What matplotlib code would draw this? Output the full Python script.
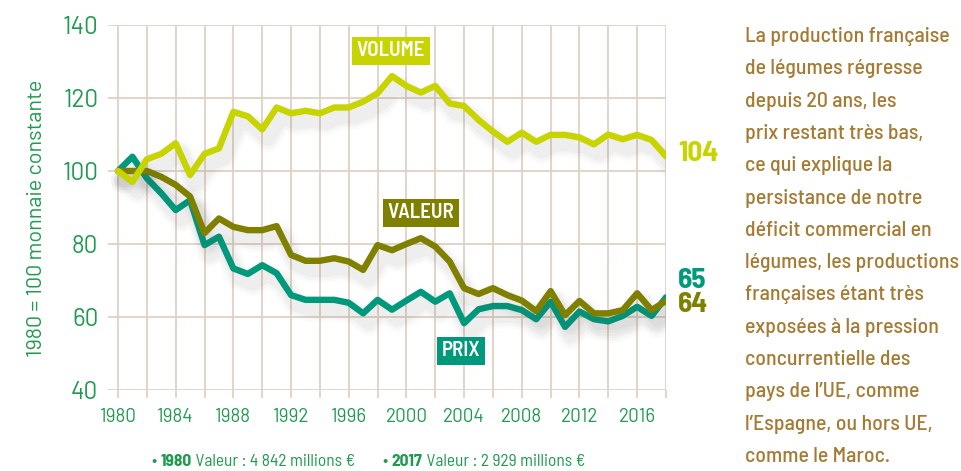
"""
plot.py - French vegetable production indices 1980-2018 (volume, valeur, prix).
"""

import matplotlib
matplotlib.use('Agg')
import matplotlib.pyplot as plt
import matplotlib.patheffects as pe
from matplotlib import font_manager


years = list(range(1980, 2019))

volume = [100, 97, 103.2, 104.7, 107.6, 98.9, 104.7, 106.2, 116.2, 115, 111.4, 117.4, 115.8,
          116.5, 115.8, 117.4, 117.4, 119, 121.3, 126, 123.3, 121.5, 123.3, 118.5, 117.8,
          114, 110.8, 108, 110.5, 108, 109.9, 109.9, 109.2, 107.3, 110, 108.7, 109.9, 108.5, 104]
valeur = [100, 100, 100, 98.4, 96.2, 93, 83, 87, 84.7, 83.8, 83.8, 84.9, 77, 75.4, 75.4,
          76.1, 75.2, 72.9, 79.7, 78.3, 80, 81.6, 79.3, 75.2, 67.9, 66.3, 67.9, 66, 64.5,
          61.6, 67.1, 60.5, 64.4, 61, 61, 61.9, 66.5, 61.9, 64.4]
prix = [100, 103.9, 98, 93.9, 89.3, 92, 79.7, 82, 73.3, 71.8, 74.2, 72, 66, 64.7, 64.7,
        64.7, 63.9, 61, 64.7, 62, 64.5, 66.9, 64.2, 66.5, 58.3, 62.1, 63, 63, 61.9, 59.4,
        64.2, 57.3, 61.5, 59.4, 58.8, 60.3, 62.8, 60.3, 65.4]

series_names = ['PRIX', 'VALEUR', 'VOLUME']

yticks = [40, 60, 80, 100, 120, 140]
xticks_major = list(range(1980, 2017, 4))
xticks_minor = list(range(1982, 2019, 4))

ylabel = '1980 = 100 monnaie constante'
legend_parts = [('1980', 'Valeur : 4\u2009842 millions €'), ('2017', 'Valeur : 2\u2009929 millions €')]

side_lines = [
    'La production française',
    'de légumes régresse',
    'depuis 20 ans, les',
    'prix restant très bas,',
    'ce qui explique la',
    'persistance de notre',
    'déficit commercial en',
    'légumes, les productions',
    'françaises étant très',
    'exposées à la pression',
    'concurrentielle des',
    'pays de l\u2019UE, comme',
    'l\u2019Espagne, ou hors UE,',
    'comme le Maroc.',
]

C_VOLUME = '#c8d400'
C_VALEUR = '#7f8000'
C_PRIX = '#00997c'
C_GREEN = '#1f9a4e'
C_GRID = '#e0d2c3'
C_TEXT = '#a57b33'

# DIN-like fonts if present
_names = {f.name for f in font_manager.fontManager.ttflist}


def pick(*cands):
    for c in cands:
        if c in _names:
            return [c, 'DejaVu Sans']
    return ['DejaVu Sans']


REG = pick('Barlow', 'Roboto', 'Liberation Sans')
SEMI = pick('Barlow Semi Condensed', 'Barlow Condensed', 'Roboto Condensed', 'Liberation Sans')

W, H = 961, 471
fig = plt.figure(figsize=(W / 100, H / 100), dpi=100)

x_left_px, x_right_px = 108, 666
y_top_px, y_bot_px = 25, 390
px_per_year = (666 - 118) / 38
ax = fig.add_axes([x_left_px / W, 1 - y_bot_px / H,
                   (x_right_px - x_left_px) / W, (y_bot_px - y_top_px) / H])
ax.set_xlim(1980 - (118 - x_left_px) / px_per_year, 2018)
ax.set_ylim(40, 140)

for s in ax.spines.values():
    s.set_visible(False)

# grid: horizontal every 20, vertical every 2 years
for v in yticks:
    ax.axhline(v, color=C_GRID, lw=1.3, zorder=0)
for yr in xticks_major + xticks_minor:
    ax.axvline(yr, color=C_GRID, lw=1.3, zorder=0)

ax.set_yticks(yticks)
ax.set_yticklabels([str(v) for v in yticks], fontfamily=REG, fontsize=17.5, color=C_GREEN)
ax.tick_params(axis='y', length=0, pad=7)
ax.set_xticks(xticks_major)
ax.set_xticks(xticks_minor, minor=True)
ax.set_xticklabels([str(v) for v in xticks_major], fontfamily=REG, fontsize=13.5, color=C_GREEN)
ax.tick_params(axis='x', which='both', length=6, width=1.3, color=C_GRID, direction='out', pad=7)


def shadow():
    fx = []
    for lw, a in ((18, 0.025), (14, 0.035), (10, 0.045)):
        fx.append(pe.SimpleLineShadow(offset=(4, -7), shadow_color='#555555', alpha=a, linewidth=lw))
    fx.append(pe.Normal())
    return fx


for vals, col, z in ((prix, C_PRIX, 3), (valeur, C_VALEUR, 4), (volume, C_VOLUME, 5)):
    ax.plot(years, vals, color=col, lw=4.6, solid_joinstyle='round', solid_capstyle='round',
            zorder=z, path_effects=shadow())

# series name boxes
box_pos = {'VOLUME': (1998.93, 132.9, C_VOLUME), 'VALEUR': (2001.0, 88.5, C_VALEUR),
           'PRIX': (2003.8, 50.7, C_PRIX)}
for name in series_names:
    bx, by, col = box_pos[name]
    ax.text(bx, by, name, fontfamily=SEMI, fontweight=600, fontsize=15, color='white',
            ha='center', va='center', zorder=6,
            bbox=dict(boxstyle='square,pad=0.22', fc=col, ec='none'))

# end values
for vals, col, ypos in ((volume, C_VOLUME, 104.9), (prix, C_PRIX, 70.1), (valeur, C_VALEUR, 63.3)):
    ax.text(2018.85, ypos, f'{round(vals[-1])}', fontfamily=SEMI, fontweight='bold', fontsize=21,
            color=col, ha='left', va='center', clip_on=False)

fig.text(37 / W, 1 - 218 / H, ylabel, rotation=90, ha='center', va='center',
         fontfamily=REG, fontsize=15.5, color=C_GREEN)

# bottom legend: bullet + bold year + regular text, chained by measured width
fig.canvas.draw()
renderer = fig.canvas.get_renderer()
for start_px, (yr, txt) in zip((152, 383), legend_parts):
    x = start_px / W
    for s, w in (('\u2022 ', 'normal'), (yr, 'bold'), (' ' + txt, 'normal')):
        t = fig.text(x, 1 - 461 / H, s, fontfamily=SEMI, fontweight=w, fontsize=12.5,
                     color=C_GREEN, ha='left', va='center')
        x += t.get_window_extent(renderer).width / W

# side commentary, one line at a time
for i, line in enumerate(side_lines):
    fig.text(745 / W, 1 - (42 + i * 32.3) / H, line, fontfamily=SEMI, fontweight=500, fontsize=15.7,
             color=C_TEXT, ha='left', va='baseline')

fig.savefig('out.png', dpi=100)
plt.close(fig)
